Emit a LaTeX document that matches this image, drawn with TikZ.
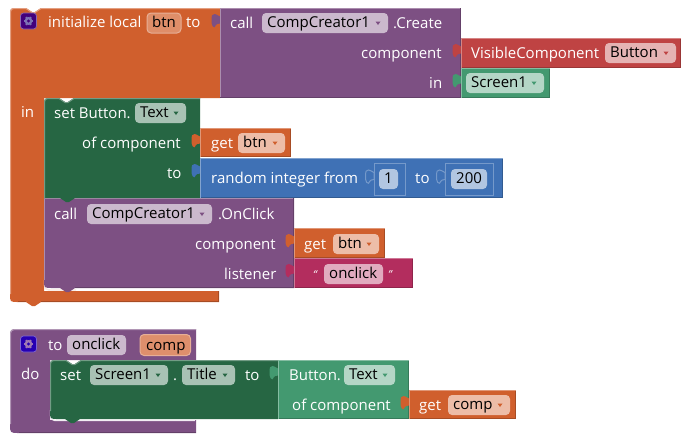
\documentclass[tikz,border=0pt]{standalone}
\usepackage{fontspec}
\setmainfont{Open Sans}
\definecolor{orangeb}{HTML}{D05F2D}
\definecolor{purpleb}{HTML}{7D5083}
\definecolor{greenb}{HTML}{266643}
\definecolor{mintb}{HTML}{439970}
\definecolor{blueb}{HTML}{3F71B5}
\definecolor{redb}{HTML}{BF4343}
\definecolor{pinkb}{HTML}{B32D5E}
\definecolor{fldorange}{HTML}{EDBDA8}
\definecolor{fldedit}{HTML}{DF8E69}
\definecolor{fldpurple}{HTML}{CBB9CD}
\definecolor{flddark}{HTML}{A8C2B4}
\definecolor{fldmint}{HTML}{B4D6C6}
\definecolor{fldred}{HTML}{E5B3B3}
\definecolor{fldblue}{HTML}{B2C6E1}
\definecolor{fldpink}{HTML}{E1ABBF}
\newcounter{lblno}
\tikzset{
  lbltext/.style={inner sep=0pt,anchor=mid west,yshift=-2.3pt,text=white,font=\fontsize{15}{18}\selectfont},
  fldtext/.style={lbltext,text=black},
}
% one text label, left edge at x, vertical centre at y
\newcommand\lbl[3]{\stepcounter{lblno}\node[lbltext] (lbl\arabic{lblno}) at (#1,#2) {#3};}
% editable field without arrow: x1, x2, yc, fill, text
\newcommand\fld[5]{\fill[#4,rounded corners=4pt] (#1,#3-10) rectangle (#2,#3+10);
  \stepcounter{lblno}\node[fldtext] (fld\arabic{lblno}) at (#1+5,#3) {#5};}
% dropdown field: x1, x2, yc, fill, text, arrow colour
\newcommand\ddn[6]{\fld{#1}{#2}{#3}{#4}{#5}
  \fill[#6] (#2-12.5,#3-1.5) -- (#2-7.5,#3-1.5) -- (#2-10,#3+2) -- cycle;}
% puzzle tab sticking out to the left of x, y = top of the tab zone
\newcommand\tabshape[2]{(#1,#2+3.5) .. controls (#1-3,#2+2) and (#1-4,#2+1) .. (#1-5.5,#2+1)
  .. controls (#1-8,#2+1) and (#1-8.5,#2+3) .. (#1-8.5,#2+5) -- (#1-8.5,#2+10)
  .. controls (#1-8.5,#2+13) and (#1-6.5,#2+14.3) .. (#1-5.5,#2+14.3)
  .. controls (#1-4.5,#2+14) and (#1-5,#2+10.5) .. (#1,#2+10.5)}
% value block: x1, y1, x2, y2, colour
\newcommand\valblock[5]{
  \fill[#5] (#1,#2) rectangle (#3,#4);
  \fill[#5] \tabshape{#1}{#2+5} -- cycle;
  \draw[#5!80!black,line width=1pt] (#3-.5,#2) -- (#3-.5,#4-.5) -- (#1,#4-.5);
  \draw[#5!65!white,line width=1pt] (#1+.5,#4) -- (#1+.5,#2+.5) -- (#3,#2+.5);}
% top notch and bottom tab of statement blocks
\newcommand\topnotch[2]{-- (#1,#2) -- (#1+6,#2+4) -- (#1+9,#2+4) -- (#1+15,#2)}
\newcommand\bottab[2]{-- (#1+15,#2) -- (#1+9,#2+4) -- (#1+6,#2+4) -- (#1,#2)}
% gear badge: x, y of the centre, fill
\newcommand\gearicon[3]{
  \fill[#3,draw=#3!60!white,line width=.7pt,rounded corners=3pt] (#1-8,#2-8) rectangle (#1+8,#2+8);
  \foreach \a in {0,60,...,300}{\draw[white!85!#3,line width=2pt] (#1,#2) ++(\a:4.6 and 4.6) -- (#1,#2);}
  \fill[white!85!#3] (#1,#2) circle[radius=3.9pt];
  \fill[#3] (#1,#2) circle[radius=1.7pt];}
\begin{document}
\begin{tikzpicture}[x=1pt,y=-1pt]
\useasboundingbox (0,0) rectangle (687,437);

% ---- initialize local ----
\fill[orangeb] (10,16) .. controls (10,8) .. (18,8) \topnotch{26}{8} -- (220,8) -- (220,98) -- (44,98)
  -- (44,291) -- (219,291) -- (219,302) \bottab{26}{302} -- (18,302) .. controls (10,302) .. (10,294) -- cycle;
\draw[orangeb!60!white,line width=1pt] (10.5,294) -- (10.5,16) .. controls (10.5,8.5) .. (18,8.5) \topnotch{26}{8.5} -- (220,8.5);
\draw[orangeb!80!black,line width=1pt] (18,301.5) -- (26,301.5) (41,301.5) -- (218.5,301.5) -- (218.5,291);
\draw[white!85!orangeb,line width=1.4pt] (44.5,280) .. controls (44.5,290) .. (54,290) -- (76,290);

\gearicon{28.5}{21}{violet!70!blue!75!black}
\lbl{48}{23}{initialize local}
\fill[fldedit,draw=orangeb!50!white,line width=1pt,rounded corners=4pt] (147,13) rectangle (181,33);
\node[fldtext] (btnvar) at (152,23) {btn};
\lbl{186}{23}{to}
\lbl{21}{113}{in}

% ---- CompCreator1.Create ----
\fill[purpleb] (220,8) rectangle (461,98);
\fill[purpleb] \tabshape{220}{13} -- cycle;
\draw[purpleb!65!white,line width=1pt] (220.5,98) -- (220.5,8.5) -- (461,8.5);
\draw[purpleb!80!black,line width=1pt] (460.5,8) -- (460.5,97.5) -- (220,97.5);
\lbl{230}{24}{call}
\ddn{262}{388}{23}{fldpurple}{CompCreator1}{purpleb}
\lbl{393}{24}{.Create}
\lbl{361}{54}{component}
\lbl{429}{84}{in}
\valblock{461}{38}{681}{68}{redb}
\lbl{471}{54}{VisibleComponent}
\ddn{605}{676}{53}{fldred}{Button}{redb}
\valblock{461}{68}{550}{98}{mintb}
\ddn{466}{544}{83}{fldmint}{Screen1}{mintb}

% ---- CompCreator1.OnClick ----
\fill[purpleb] (44,198) -- (294,198) -- (294,288) \bottab{60}{288} -- (52,288) .. controls (44,288) .. (44,280) -- cycle;
\draw[purpleb!65!white,line width=1pt] (44.5,280) -- (44.5,198.5) -- (294,198.5);
\draw[purpleb!80!black,line width=1pt] (293.5,198) -- (293.5,287.5) -- (75,287.5);
\lbl{54}{215}{call}
\ddn{87}{212}{214}{fldpurple}{CompCreator1}{purpleb}
\lbl{218}{215}{.OnClick}
\lbl{195}{245}{component}
\lbl{224}{275}{listener}
\valblock{294}{228}{385}{258}{orangeb}
\lbl{304}{245}{get}
\ddn{333}{379}{244}{fldorange}{btn}{orangeb}
\valblock{294}{258}{413}{288}{pinkb}
\node[lbltext,font=\fontsize{11}{13}\itshape\selectfont] (qopen) at (313,274) {“};
\fld{324}{383}{274}{fldpink}{onclick}
\node[lbltext,font=\fontsize{11}{13}\itshape\selectfont] (qclose) at (388,274) {”};

% ---- set Button.Text ----
\fill[greenb] (44,106) .. controls (44,98) .. (52,98) \topnotch{59}{98} -- (200,98) -- (200,198) \bottab{60}{198} -- (44,198) -- cycle;
\draw[greenb!65!white,line width=1pt] (44.5,198) -- (44.5,106) .. controls (44.5,98.5) .. (52,98.5) \topnotch{59}{98.5} -- (200,98.5);
\lbl{54}{114}{set Button.}
\ddn{135}{186}{113}{flddark}{Text}{greenb}
\lbl{82}{144}{of component}
\lbl{167}{174}{to}
\valblock{200}{128}{291}{157}{orangeb}
\lbl{211}{144}{get}
\ddn{238}{285}{143}{fldorange}{btn}{orangeb}
\valblock{200}{158}{503}{198}{blueb}
\lbl{211}{179}{random integer from}
\draw[blueb!72!white,fill=blueb,line width=1pt] \tabshape{374}{169} -- cycle;
\draw[blueb!72!white,fill=blueb,line width=1pt] (374.5,163.5) rectangle (405,195);
\fld{379}{398}{179}{fldblue}{1}
\lbl{415}{179}{to}
\draw[blueb!72!white,fill=blueb,line width=1pt] \tabshape{445}{169} -- cycle;
\draw[blueb!72!white,fill=blueb,line width=1pt] (445.5,163.5) rectangle (493,195);
\fld{451}{487}{179}{fldblue}{200}

% ---- procedure onclick ----
\fill[purpleb] (10,338) .. controls (10,329) .. (19,329) -- (196,329) -- (196,360) -- (50,360)
  -- (50,420) -- (196,420) -- (196,433) -- (19,433) .. controls (10,433) .. (10,424) -- cycle;
\draw[purpleb!60!white,line width=1pt] (10.5,424) -- (10.5,338) .. controls (10.5,329.5) .. (19,329.5) -- (196,329.5);
\draw[purpleb!80!black,line width=1pt] (19,432.5) -- (196,432.5);
\draw[white!90!purpleb,line width=1.4pt] (50.5,410) .. controls (50.5,420.5) .. (60,420.5) -- (195,420.5);
\gearicon{28.5}{344}{blue!65!violet!85!black}
\lbl{48}{346}{to}
\fld{67}{126}{345}{fldpurple}{onclick}
\fill[orangeb!70!white,draw=orangeb!50!white,line width=1pt,rounded corners=4pt] (140,334.5) rectangle (190.5,355.5);
\node[fldtext] (compvar) at (146,346) {comp};
\lbl{21}{375}{do}

% ---- set Screen1.Title ----
\fill[greenb] (50,368) .. controls (50,360) .. (58,360) \topnotch{66}{360} -- (278,360) -- (278,419)
  \bottab{65}{419} -- (58,419) .. controls (50,419) .. (50,411) -- cycle;
\draw[greenb!65!white,line width=1pt] (50.5,411) -- (50.5,368) .. controls (50.5,360.5) .. (58,360.5) \topnotch{66}{360.5} -- (278,360.5);
\lbl{60}{376}{set}
\ddn{90}{168}{375}{flddark}{Screen1}{greenb}
\lbl{173}{376}{.}
\ddn{182}{235}{375}{flddark}{Title}{greenb}
\lbl{245}{376}{to}

% ---- Button.Text of component ----
\valblock{278}{360}{409}{419}{mintb}
\lbl{289}{376}{Button.}
\ddn{344}{395}{375}{fldmint}{Text}{mintb}
\lbl{292}{406}{of component}
\valblock{409}{390}{516}{419}{orangeb}
\lbl{419}{406}{get}
\ddn{448}{510}{405}{fldorange}{comp}{orangeb}
\end{tikzpicture}
\end{document}
